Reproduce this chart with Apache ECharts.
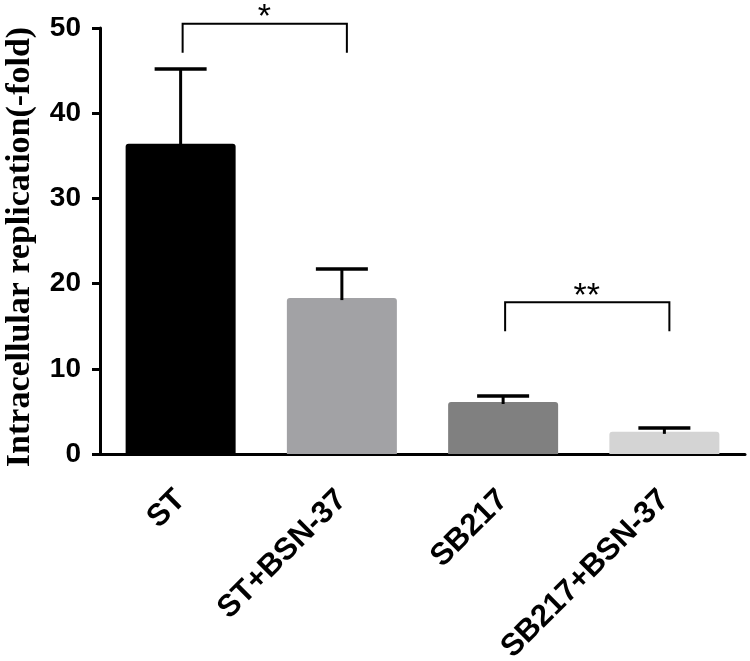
<!DOCTYPE html>
<html>
<head>
<meta charset="utf-8">
<script src="https://cdn.jsdelivr.net/npm/echarts@6/dist/echarts.min.js"></script>
<style>
html,body{margin:0;padding:0;background:#fff;}
#c{width:750px;height:661px;}
</style>
</head>
<body>
<div id="c"></div>
<script>
var categories = ['ST', 'ST+BSN-37', 'SB217', 'SB217+BSN-37'];
var means = [36.4, 18.3, 6.1, 2.6];
var upperErrors = [45.2, 21.7, 6.8, 3.05];
var barColors = ['#000000', '#a2a2a5', '#808080', '#d4d4d4'];
var yTicks = [0, 10, 20, 30, 40, 50];
// significance brackets: [start category, end category, top value, end value, mark]
var brackets = [
  [0, 1, 50.5, 47.1, '*'],
  [2, 3, 17.8, 14.4, '**']
];

var chart = echarts.init(document.getElementById('c'));
var option = {
  backgroundColor: '#ffffff',
  animation: false,
  grid: { left: 100, right: 5, top: 28, bottom: 207, containLabel: false, outerBoundsMode: 'none' },
  xAxis: {
    type: 'category',
    data: categories,
    axisLine: { show: true, lineStyle: { color: '#000', width: 3 } },
    axisTick: { show: false },
    axisLabel: {
      interval: 0,
      rotate: 45,
      margin: 41,
      color: '#000',
      fontFamily: 'Liberation Sans, Arial, sans-serif',
      fontWeight: 'bold',
      fontSize: 31
    }
  },
  yAxis: {
    type: 'value',
    min: yTicks[0],
    max: yTicks[yTicks.length - 1],
    interval: 10,
    name: 'Intracellular replication(-fold)',
    nameLocation: 'middle',
    nameGap: 63,
    nameTextStyle: {
      color: '#000',
      fontFamily: 'Liberation Serif, Times New Roman, serif',
      fontWeight: 'bold',
      fontSize: 34,
      padding: [0, 12, 0, 0]
    },
    axisLine: { show: true, lineStyle: { color: '#000', width: 3 } },
    axisTick: { show: true, length: 8, lineStyle: { color: '#000', width: 3 } },
    splitLine: { show: false },
    axisLabel: {
      margin: 19,
      color: '#000',
      fontFamily: 'Liberation Sans, Arial, sans-serif',
      fontWeight: 'bold',
      fontSize: 28
    }
  },
  series: [
    {
      type: 'bar',
      barWidth: 110,
      data: means.map(function (v, i) {
        return { value: v, itemStyle: { color: barColors[i], borderRadius: [3, 3, 0, 0] } };
      }),
      z: 2
    },
    {
      type: 'custom',
      z: 3,
      clip: false,
      data: means.map(function (v, i) { return [i, v, upperErrors[i]]; }),
      renderItem: function (params, api) {
        var p0 = api.coord([api.value(0), api.value(1)]);
        var p1 = api.coord([api.value(0), api.value(2)]);
        var hw = 26;
        return {
          type: 'group',
          children: [
            { type: 'line', shape: { x1: p0[0], y1: p0[1] + 2, x2: p1[0], y2: p1[1] }, style: { stroke: '#000', lineWidth: 3 } },
            { type: 'line', shape: { x1: p1[0] - hw, y1: p1[1], x2: p1[0] + hw, y2: p1[1] }, style: { stroke: '#000', lineWidth: 3.5 } }
          ]
        };
      }
    },
    {
      type: 'custom',
      z: 4,
      clip: false,
      data: brackets,
      renderItem: function (params, api) {
        var a = api.coord([api.value(0), api.value(2)]);
        var b = api.coord([api.value(1), api.value(2)]);
        var ya = api.coord([api.value(0), api.value(3)])[1];
        var mark = brackets[params.dataIndex][4];
        return {
          type: 'group',
          children: [
            { type: 'polyline', shape: { points: [[a[0] + 2, ya], [a[0] + 2, a[1]], [b[0] + 5, b[1]], [b[0] + 5, ya]] }, style: { stroke: '#000', lineWidth: 2, fill: null } },
            { type: 'text', style: { text: mark, x: (a[0] + b[0]) / 2 + 3, y: a[1] - 23, align: 'center', verticalAlign: 'top', fill: '#000', font: '34px "Liberation Sans", Arial, sans-serif' } }
          ]
        };
      }
    }
  ]
};
chart.setOption(option);
</script>
</body>
</html>
